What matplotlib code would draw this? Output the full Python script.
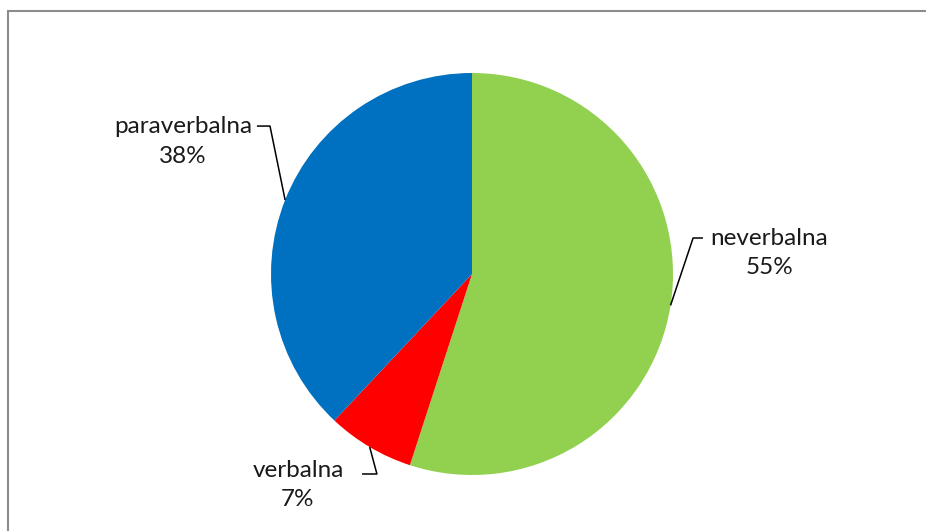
import numpy as np
import matplotlib.pyplot as plt
from matplotlib.patches import Rectangle

# data
labels = ["neverbalna", "verbalna", "paraverbalna"]
shares = [55, 7, 38]
colors = ["#92D050", "#FF0000", "#0070C0"]

# label placement (in pie radii, relative to centre): elbow point, line end, text centre
elbows = [(1.10, 0.179), (-0.473, -0.995), (-1.005, 0.736)]
line_ends = [1.149, -0.547, -1.07]
text_pos = [(1.478, 0.104), (-0.866, -1.05), (-1.438, 0.659)]

plt.rcParams["font.family"] = ["Lato", "DejaVu Sans"]

W, H, dpi = 926, 531, 100
fig = plt.figure(figsize=(W / dpi, H / dpi), dpi=dpi)
ax = fig.add_axes([0, 0, 1, 1])

# pie centre and radius in pixels
cx, cy, r = 472, 257, 201

wedges, _ = ax.pie(shares, colors=colors, startangle=90, counterclock=False,
                   radius=1, center=(0, 0), frame=True,
                   wedgeprops=dict(linewidth=0))
ax.set_xlim(-cx / r, (W - cx) / r)
ax.set_ylim(-cy / r, (H - cy) / r)
ax.axis("off")

for w, lab, val, el, le, tp in zip(wedges, labels, shares, elbows, line_ends, text_pos):
    mid = np.deg2rad((w.theta1 + w.theta2) / 2)
    ex, ey = np.cos(mid), np.sin(mid)
    ax.plot([ex, el[0], le], [ey, el[1], el[1]], color="black", lw=1.1,
            solid_capstyle="butt")
    ax.text(tp[0], tp[1], f"{lab}\n{val}%", ha="center", va="center",
            fontsize=17.5, color="#1a1a1a", linespacing=1.5)

# outer chart frame (cut off at right and bottom)
fig.patches.append(Rectangle((8 / W, -0.1), 1.2, (H - 11) / H + 0.1,
                             transform=fig.transFigure, fill=False,
                             edgecolor="#8c8c8c", linewidth=1.5))

fig.savefig("out.png", dpi=dpi)
